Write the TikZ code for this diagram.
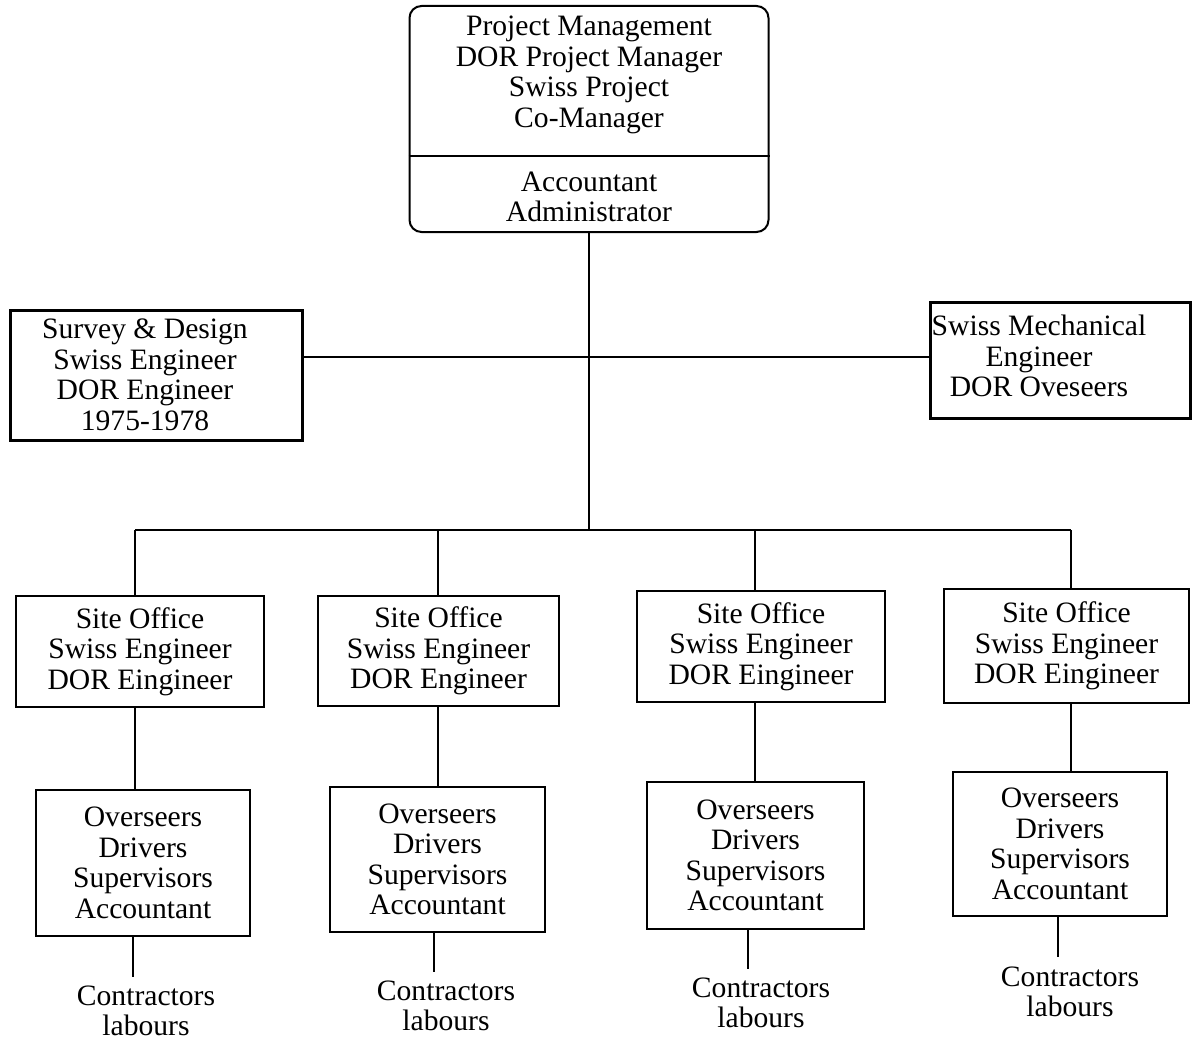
\documentclass[tikz,border=0pt]{standalone}
\usepackage{fontspec}
\setmainfont{Liberation Serif}
\begin{document}
\begin{tikzpicture}[x=1pt,y=-1pt,
  txt/.style={align=center,inner sep=0pt,font=\fontsize{29.6}{30.5}\selectfont},
  box/.style={draw,line width=1.6pt,inner sep=0pt,align=center,font=\fontsize{29.6}{30.5}\selectfont},
  heavybox/.style={draw,line width=3pt,inner sep=0pt},
  conn/.style={line width=1.7pt}]
\useasboundingbox (0,0) rectangle (1196,1041);

% top box
\node[draw,line width=2pt,rounded corners=12pt,minimum width=359pt,minimum height=226pt,inner sep=0pt] (top) at (589,119) {};
\coordinate (div) at (0,156);
\draw[line width=2.2pt] (top.west |- div) -- (top.east |- div);
\node[txt] (tm) at (589,75) {Project Management\\DOR Project Manager\\Swiss Project\\Co-Manager};
\node[txt] (ta) at (589,197) {Accountant\\Administrator};

% side boxes
\node[heavybox,minimum width=292pt,minimum height=130pt] (sd) at (156,375) {};
\node[txt] (sdt) at (145,375) {Survey \& Design\\Swiss Engineer\\DOR Engineer\\1975-1978};
\node[heavybox,minimum width=260pt,minimum height=116pt] (mech) at (1060,360) {};
\node[txt] (mecht) at (1039,356) {Swiss Mechanical\\Engineer\\DOR Oveseers};

% site offices
\node[box,minimum width=248pt,minimum height=111pt] (s1) at (140,651.5) {Site Office\\Swiss Engineer\\DOR Eingineer};
\node[box,minimum width=241pt,minimum height=110pt] (s2) at (438.5,651) {Site Office\\Swiss Engineer\\DOR Engineer};
\node[box,minimum width=248pt,minimum height=111pt] (s3) at (761,646.5) {Site Office\\Swiss Engineer\\DOR Eingineer};
\node[box,minimum width=245pt,minimum height=114pt] (s4) at (1066.5,646) {Site Office\\Swiss Engineer\\DOR Eingineer};

% overseer boxes
\node[box,minimum width=214pt,minimum height=146pt] (o1) at (143,863) {Overseers\\Drivers\\Supervisors\\Accountant};
\node[box,minimum width=215pt,minimum height=145pt] (o2) at (437.5,859.5) {Overseers\\Drivers\\Supervisors\\Accountant};
\node[box,minimum width=217pt,minimum height=147pt] (o3) at (755.5,855.5) {Overseers\\Drivers\\Supervisors\\Accountant};
\node[box,minimum width=214pt,minimum height=144pt] (o4) at (1060,844) {Overseers\\Drivers\\Supervisors\\Accountant};

% contractors
\node[txt] (c1) at (146,1011) {Contractors\\labours};
\node[txt] (c2) at (446,1006) {Contractors\\labours};
\node[txt] (c3) at (761,1003) {Contractors\\labours};
\node[txt] (c4) at (1070,992) {Contractors\\labours};

% connectors
\coordinate (j0) at (589,357);
\coordinate (bus) at (589,530);
\draw[conn] (top.south) -- (bus);
\draw[conn] (sd.east |- j0) -- (mech.west |- j0);

\coordinate (b1) at (135,530);
\coordinate (b2) at (438,530);
\coordinate (b3) at (755,530);
\coordinate (b4) at (1071,530);
\draw[conn] (b1) -- (b4);
\draw[conn] (b1) -- (b1 |- s1.north);
\draw[conn] (b2) -- (b2 |- s2.north);
\draw[conn] (b3) -- (b3 |- s3.north);
\draw[conn] (b4) -- (b4 |- s4.north);

\draw[conn] (b1 |- s1.south) -- (b1 |- o1.north);
\draw[conn] (b2 |- s2.south) -- (b2 |- o2.north);
\draw[conn] (b3 |- s3.south) -- (b3 |- o3.north);
\draw[conn] (b4 |- s4.south) -- (b4 |- o4.north);

\coordinate (e1) at (133,977);
\coordinate (e2) at (434,972);
\coordinate (e3) at (748,969);
\coordinate (e4) at (1058,957);
\draw[conn] (e1 |- o1.south) -- (e1);
\draw[conn] (e2 |- o2.south) -- (e2);
\draw[conn] (e3 |- o3.south) -- (e3);
\draw[conn] (e4 |- o4.south) -- (e4);
\end{tikzpicture}
\end{document}
